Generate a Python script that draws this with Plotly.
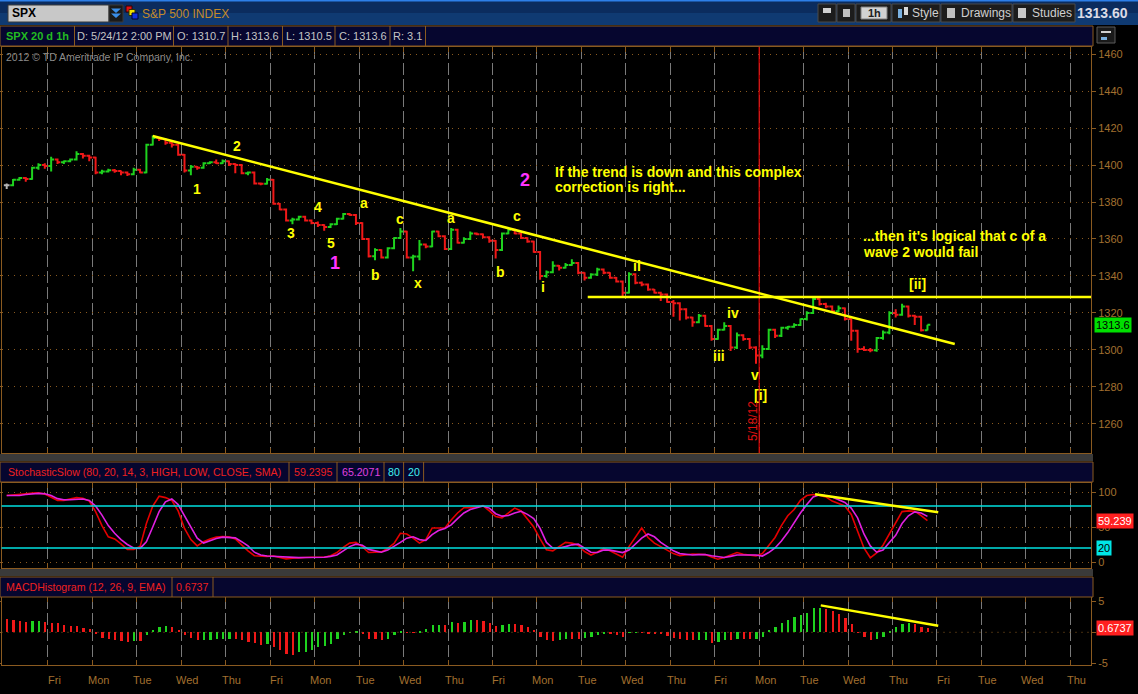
import plotly.graph_objects as go

W, H = 1138, 694

# ---------------- data ----------------
day_labels = ["Fri", "Mon", "Tue", "Wed", "Thu", "Fri", "Mon", "Tue", "Wed", "Thu",
              "Fri", "Mon", "Tue", "Wed", "Thu", "Fri", "Mon", "Tue", "Wed", "Thu",
              "Fri", "Tue", "Wed", "Thu"]

# SPX hourly bars, Thu 4/26/12 .. Thu 5/24/12 2:00 PM, 7 bars per day
bar_open = [
    1389.0, 1389.0, 1392.0, 1393.0, 1392.5, 1398.5, 1400.0,
    1399.5, 1403.0, 1401.5, 1402.0, 1403.0, 1406.0, 1405.0,
    1404.0, 1396.0, 1396.5, 1397.2, 1396.8, 1396.0, 1395.0,
    1397.4, 1396.0, 1411.0, 1414.6, 1414.0, 1412.0, 1411.0,
    1405.5, 1397.0, 1399.0, 1398.5, 1401.0, 1401.5, 1401.0,
    1402.0, 1400.6, 1400.0, 1395.6, 1396.0, 1390.0, 1389.8,
    1392.0, 1379.0, 1376.0, 1370.0, 1370.5, 1372.0, 1370.0,
    1368.7, 1367.5, 1366.5, 1368.0, 1371.0, 1373.5, 1373.0,
    1368.7, 1360.0, 1350.7, 1354.0, 1350.0, 1355.0, 1360.5,
    1364.0, 1350.0, 1350.5, 1357.0, 1356.0, 1364.0, 1361.5,
    1354.6, 1365.0, 1358.0, 1360.0, 1363.0, 1362.5, 1361.0,
    1359.0, 1354.0, 1363.0, 1365.0, 1363.0, 1360.5, 1358.6,
    1353.0, 1340.0, 1342.0, 1345.6, 1344.5, 1346.0, 1347.0,
    1341.7, 1339.0, 1340.8, 1343.5, 1341.7, 1339.0, 1337.0,
    1331.0, 1341.0, 1336.3, 1335.4, 1332.7, 1331.0, 1330.0,
    1326.0, 1325.3, 1322.0, 1317.6, 1315.0, 1318.5, 1313.0,
    1306.0, 1311.0, 1313.0, 1301.4, 1308.0, 1306.0, 1301.4,
    1297.0, 1300.5, 1311.0, 1307.7, 1312.0, 1312.5, 1313.5,
    1316.7, 1320.0, 1327.5, 1324.8, 1323.5, 1321.0, 1322.5,
    1316.7, 1310.4, 1300.5, 1300.0, 1299.8, 1306.5, 1309.5,
    1320.0, 1319.0, 1323.5, 1318.5, 1318.0, 1310.7,
]
bar_high = [
    1390.0, 1392.5, 1393.5, 1393.5, 1399.0, 1401.0, 1401.0,
    1404.5, 1403.5, 1402.5, 1403.5, 1407.5, 1406.5, 1405.5,
    1404.5, 1397.5, 1398.0, 1397.8, 1397.0, 1396.5, 1398.5,
    1398.0, 1411.5, 1416.0, 1415.0, 1414.5, 1412.5, 1411.5,
    1406.0, 1400.0, 1399.5, 1401.5, 1402.0, 1403.0, 1403.0,
    1402.5, 1401.0, 1400.5, 1396.5, 1396.5, 1390.5, 1393.0,
    1392.5, 1379.5, 1376.5, 1371.5, 1372.5, 1372.5, 1370.5,
    1369.5, 1368.0, 1368.5, 1371.5, 1374.0, 1374.0, 1373.5,
    1369.0, 1360.5, 1355.0, 1354.5, 1355.5, 1361.0, 1366.0,
    1364.5, 1351.5, 1359.5, 1357.5, 1364.5, 1364.5, 1362.0,
    1366.0, 1365.5, 1361.0, 1364.0, 1363.5, 1363.0, 1361.5,
    1359.5, 1363.5, 1366.0, 1365.5, 1363.5, 1361.0, 1359.0,
    1353.5, 1343.0, 1348.0, 1346.0, 1347.0, 1349.0, 1347.5,
    1342.0, 1341.5, 1344.5, 1344.0, 1342.0, 1339.5, 1337.5,
    1342.0, 1341.5, 1337.0, 1336.0, 1333.0, 1331.5, 1330.5,
    1327.0, 1325.8, 1322.5, 1318.0, 1319.5, 1319.0, 1313.5,
    1311.5, 1315.0, 1313.5, 1309.5, 1308.5, 1306.5, 1302.0,
    1302.5, 1311.5, 1311.5, 1312.5, 1313.0, 1314.5, 1317.0,
    1321.0, 1328.5, 1328.0, 1325.5, 1324.0, 1324.0, 1323.0,
    1317.0, 1311.0, 1302.0, 1301.0, 1307.0, 1310.5, 1321.0,
    1322.0, 1325.0, 1324.0, 1319.0, 1318.5, 1313.6,
]
bar_low = [
    1387.0, 1388.5, 1391.5, 1391.0, 1392.0, 1397.5, 1398.0,
    1396.5, 1400.5, 1400.5, 1401.5, 1402.5, 1403.5, 1402.0,
    1395.0, 1395.0, 1396.0, 1395.8, 1394.5, 1394.0, 1394.5,
    1395.5, 1395.5, 1410.5, 1413.0, 1411.0, 1409.5, 1405.0,
    1396.0, 1394.5, 1397.5, 1398.0, 1400.5, 1400.5, 1400.5,
    1399.5, 1395.5, 1395.0, 1394.5, 1389.5, 1389.0, 1389.5,
    1378.5, 1375.5, 1369.5, 1368.0, 1370.0, 1369.5, 1368.0,
    1366.5, 1364.5, 1366.0, 1367.5, 1370.5, 1372.5, 1367.5,
    1359.5, 1350.0, 1348.5, 1349.5, 1349.5, 1354.5, 1360.0,
    1349.5, 1342.5, 1348.5, 1355.0, 1355.5, 1361.0, 1354.0,
    1354.0, 1357.5, 1357.5, 1359.5, 1362.0, 1360.5, 1358.0,
    1349.5, 1353.5, 1362.5, 1362.5, 1360.0, 1358.0, 1352.5,
    1338.0, 1339.0, 1341.5, 1343.0, 1344.0, 1345.5, 1341.0,
    1337.5, 1338.5, 1340.0, 1341.0, 1338.5, 1336.5, 1329.0,
    1330.5, 1335.5, 1334.5, 1332.0, 1330.5, 1326.5, 1325.5,
    1318.0, 1316.0, 1316.5, 1312.5, 1314.5, 1312.5, 1305.0,
    1305.5, 1310.5, 1299.5, 1300.5, 1305.0, 1300.5, 1292.5,
    1295.5, 1300.0, 1306.5, 1307.0, 1311.0, 1312.0, 1313.0,
    1316.0, 1319.5, 1324.0, 1322.5, 1320.0, 1320.5, 1316.0,
    1305.0, 1298.5, 1299.5, 1298.8, 1299.0, 1305.5, 1308.5,
    1317.5, 1318.5, 1317.5, 1313.5, 1310.0, 1310.5,
]
bar_close = [
    1389.0, 1392.0, 1393.0, 1392.5, 1398.5, 1400.0, 1399.5,
    1403.0, 1401.5, 1402.0, 1403.0, 1406.0, 1405.0, 1404.0,
    1396.0, 1396.5, 1397.2, 1396.8, 1396.0, 1395.0, 1397.4,
    1396.0, 1411.0, 1414.6, 1414.0, 1412.0, 1411.0, 1405.5,
    1397.0, 1399.0, 1398.5, 1401.0, 1401.5, 1401.0, 1402.0,
    1400.6, 1400.0, 1395.6, 1396.0, 1390.0, 1389.8, 1392.0,
    1379.0, 1376.0, 1370.0, 1370.5, 1372.0, 1370.0, 1368.7,
    1367.5, 1366.5, 1368.0, 1371.0, 1373.5, 1373.0, 1368.7,
    1360.0, 1350.7, 1354.0, 1350.0, 1355.0, 1360.5, 1364.0,
    1350.0, 1350.5, 1357.0, 1356.0, 1364.0, 1361.5, 1354.6,
    1365.0, 1358.0, 1360.0, 1363.0, 1362.5, 1361.0, 1359.0,
    1354.0, 1363.0, 1365.0, 1363.0, 1360.5, 1358.6, 1353.0,
    1340.0, 1342.0, 1345.6, 1344.5, 1346.0, 1347.0, 1341.7,
    1339.0, 1340.8, 1343.5, 1341.7, 1339.0, 1337.0, 1331.0,
    1341.0, 1336.3, 1335.4, 1332.7, 1331.0, 1330.0, 1326.0,
    1325.3, 1322.0, 1317.6, 1315.0, 1318.5, 1313.0, 1306.0,
    1311.0, 1313.0, 1301.4, 1308.0, 1306.0, 1301.4, 1297.0,
    1300.5, 1311.0, 1307.7, 1312.0, 1312.5, 1313.5, 1316.7,
    1320.0, 1327.5, 1324.8, 1323.5, 1321.0, 1322.5, 1316.7,
    1310.4, 1300.5, 1300.0, 1299.8, 1306.5, 1309.5, 1320.0,
    1319.0, 1323.5, 1318.5, 1318.0, 1310.7, 1313.6,
]

# StochasticSlow %K (red) and %D (magenta)
stoch_k = [
    95, 95.5, 96, 97.5, 98.5, 99, 97,
    92, 88, 88, 90, 92, 91, 87,
    72, 52, 36, 33, 26, 18, 18,
    22, 55, 80, 94, 92, 88, 73,
    48, 32, 23, 29, 33, 35.5, 36.5,
    36, 33, 24, 16, 9, 8, 8,
    8.5, 6, 4.5, 5.5, 6.3, 6.5, 6.7,
    6.7, 6.7, 9, 13.5, 21, 27, 28,
    22, 13.5, 13.5, 14.5, 19.5, 26.5, 41,
    40, 34, 27, 32, 48.6, 48.6, 48.6,
    60, 70, 77.5, 77.5, 79, 80.5, 73,
    65, 63, 70, 77, 73, 62, 50,
    33, 17.5, 16, 22, 28, 27, 24,
    15, 10, 14, 19.5, 16, 12, 7,
    22, 36, 48.6, 35, 27, 22, 17,
    12, 9, 10.5, 11.5, 11, 10.6, 7,
    4, 6.5, 10, 13.5, 11, 10, 8.7,
    12, 24, 35, 52, 66, 75, 88,
    95, 96.5, 95, 93, 87, 83, 80,
    68, 45, 20, 6, 13, 24, 40,
    55, 72, 73, 72.6, 66.3, 59.2395,
]
stoch_d = [
    95, 94.5, 95, 96.5, 97.5, 98, 97.5,
    95, 90.5, 89, 89, 89.5, 90, 88,
    80, 67, 52, 41, 32, 25, 20,
    19.5, 29, 50, 72, 86, 90, 82,
    66, 50, 34, 27, 30.5, 33.5, 35.5,
    35.5, 34.5, 29, 23, 14, 10, 8.5,
    8, 7, 6.3, 6, 6.3, 6.5, 6.7,
    6.7, 6.7, 8, 10, 16, 22, 25.5,
    24, 18, 15.5, 14, 17, 22, 28,
    34, 36, 32, 30.8, 39, 45, 48,
    53, 62, 70, 75, 78, 80, 77,
    69, 65.5, 66.5, 70, 72.5, 68, 62,
    48, 28, 20, 20, 22, 24.5, 25.5,
    20, 14, 13.5, 17, 17, 15, 13.5,
    17, 25, 34, 40, 36, 28, 22,
    16, 12, 10.5, 10, 10.5, 10.6, 9,
    7.5, 6.5, 8, 10, 10, 10, 10,
    8.5, 13.5, 20, 30, 42, 56, 70,
    82, 93, 96, 95, 93, 89, 85,
    77, 63, 40, 23, 14, 17, 28,
    38, 55, 66, 71.6, 70, 65.2071,
]

# MACDHistogram (12, 26, 9, EMA)
macd_hist = [
    2.1, 2.0, 1.8, 1.7, 1.8, 1.85, 1.7,
    1.55, 1.45, 1.1, 1.05, 1.0, 0.75, 0.5,
    -0.27, -0.95, -1.1, -1.2, -1.4, -1.5, -1.4,
    -1.45, -0.4, 0.37, 0.9, 0.95, 0.8, 0.37,
    -0.5, -0.95, -1.3, -1.25, -1.2, -1.1, -1.05,
    -1.0, -1.05, -1.3, -1.5, -1.75, -2.0, -1.9,
    -2.4, -2.8, -3.45, -3.6, -3.2, -3.15, -2.8,
    -2.4, -2.2, -1.85, -1.1, -0.4, -0.1, 0.15,
    -0.15, -1.05, -1.1, -1.2, -1.1, -0.4, 0.1,
    -0.05, -0.08, 0.1, 0.5, 1.15, 1.2, 1.1,
    1.6, 1.55, 1.65, 2.0, 1.95, 1.8, 1.45,
    1.0, 1.15, 1.3, 1.25, 1.15, 0.9, 0.37,
    -0.7, -1.25, -1.32, -1.25, -1.05, -1.1, -1.12,
    -0.95, -0.8, -0.4, -0.27, -0.3, -0.4, -0.7,
    -0.05, 0.02, -0.02, -0.15, -0.17, -0.2, -0.6,
    -0.85, -1.05, -1.2, -1.3, -1.2, -1.15, -1.65,
    -1.5, -1.2, -1.3, -1.05, -1.1, -1.12, -1.1,
    -0.7, 0.37, 0.9, 1.55, 2.0, 2.5, 2.75,
    3.15, 3.9, 3.95, 3.8, 3.4, 3.0, 2.35,
    1.3, 0.05, -0.7, -1.3, -1.05, -0.7, 0.25,
    0.8, 1.3, 1.55, 1.3, 0.9, 0.6737,
]

price_ticks = [1260, 1280, 1300, 1320, 1340, 1360, 1380, 1400, 1420, 1440, 1460]
stoch_ticks = [0, 50, 100]
macd_ticks = [-5, 0, 5]
macd_tick_text = ["-5", "", "5"]  # the 0 label sits under the value box
stoch_levels = [80, 20]

# hand drawn lines (bar index, value)
trend_down = ([23.0, 149.3], [1415.7, 1303.2])
trend_flat_start, trend_flat_level = 91.5, 1328.6
stoch_trend = ([127.3, 146.7], [96.7, 71.0])
macd_trend = ([128.2, 146.7], [4.3, 1.05])
marker_bar = 118.5  # red "5/18/12" line

# wave labels: text, bar, price, colour, size
wave_labels = [
    ("2", 36.2, 1410.3, "y", 14), ("1", 29.9, 1386.9, "y", 14),
    ("3", 44.7, 1363.1, "y", 14), ("4", 49.1, 1377.1, "y", 14),
    ("5", 51.0, 1358.0, "y", 14), ("1", 51.7, 1346.9, "m", 18),
    ("a", 56.3, 1379.3, "y", 14), ("b", 58.1, 1340.5, "y", 14),
    ("c", 62.0, 1370.6, "y", 14), ("x", 64.7, 1336.1, "y", 14),
    ("a", 69.9, 1371.2, "y", 14), ("b", 77.7, 1342.3, "y", 14),
    ("c", 80.3, 1372.4, "y", 14), ("i", 84.4, 1334.2, "y", 14),
    ("2", 81.6, 1391.9, "m", 18), ("ii", 99.2, 1345.4, "y", 14),
    ("iv", 114.4, 1320.2, "y", 14), ("iii", 112.2, 1296.9, "y", 14),
    ("v", 117.9, 1286.5, "y", 14), ("[i]", 118.7, 1275.7, "y", 14),
    ("[ii]", 143.5, 1335.5, "y", 14),
]
comments = [
    ("If the trend is down and this complex", 86.1, 1396.4),
    ("correction is right...", 86.1, 1387.9),
    ("...then it's logical that c of a", 134.6, 1361.8),
    ("wave 2 would fail", 134.6, 1353.1),
]

# ---------------- geometry / style ----------------
FONT = "Liberation Sans, Arial, sans-serif"
BROWN = "#8a5a20"
AXIS_TXT = "#a3702f"
GRID_V = "#7a7a7a"
GREEN = "#1ed21e"
RED = "#f01818"
YELLOW = "#ffff00"
MAGENTA = "#ff33ff"
CYAN = "#00e0e0"
NAVY = "#06062f"

X_LEFT, X_RIGHT = 1.5, 1091.0
SLOT, X0 = 6.35, 6.7
x_range = [(X_LEFT - X0) / SLOT, (X_RIGHT - X0) / SLOT]
price_px, price_range = (47, 453), [1244.3, 1463.8]
stoch_px, stoch_range = (483, 568), [-8.57, 112.86]
macd_px, macd_range = (597, 665), [-5.22, 5.64]

n_bars = len(bar_close)
bar_x = list(range(n_bars))
day_breaks = [7 * (k + 1) - 0.5 for k in range(len(day_labels))]


def px(x):
    return x / W


def py(y):
    return 1 - y / H


def dom(p):
    return [py(p[1]), py(p[0])]


macd_colors = [RED] + [GREEN if macd_hist[i] > macd_hist[i - 1] else RED
                       for i in range(1, n_bars)]

fig = go.Figure()
fig.add_trace(go.Ohlc(
    x=bar_x[1:], open=bar_open[1:], high=bar_high[1:], low=bar_low[1:], close=bar_close[1:],
    increasing=dict(line=dict(color=GREEN, width=2)),
    decreasing=dict(line=dict(color=RED, width=2)),
    tickwidth=0.45, xaxis="x", yaxis="y", hoverinfo="skip", showlegend=False))
fig.add_trace(go.Ohlc(
    x=bar_x[:1], open=bar_open[:1], high=bar_high[:1], low=bar_low[:1], close=bar_close[:1],
    increasing=dict(line=dict(color="#b4b4b4", width=2)),
    decreasing=dict(line=dict(color="#b4b4b4", width=2)),
    tickwidth=0.45, xaxis="x", yaxis="y", hoverinfo="skip", showlegend=False))
fig.add_trace(go.Scatter(x=bar_x, y=stoch_k, mode="lines", line=dict(color="#e40000", width=1.6),
                         xaxis="x2", yaxis="y2", hoverinfo="skip", showlegend=False))
fig.add_trace(go.Scatter(x=bar_x, y=stoch_d, mode="lines", line=dict(color="#e020e0", width=1.6),
                         xaxis="x2", yaxis="y2", hoverinfo="skip", showlegend=False))
fig.add_trace(go.Bar(x=bar_x, y=macd_hist, marker=dict(color=macd_colors, line=dict(width=0)),
                     width=0.36, xaxis="x3", yaxis="y3", hoverinfo="skip", showlegend=False))

xcommon = dict(range=x_range, domain=[px(X_LEFT), px(X_RIGHT)], tickvals=day_breaks,
               showticklabels=False, ticks="inside", ticklen=5, tickcolor=BROWN,
               showline=True, linecolor=BROWN, mirror="ticks",
               showgrid=True, gridcolor=GRID_V, griddash="12px,4px", gridwidth=1,
               zeroline=False, fixedrange=True, automargin=False,
               rangeslider=dict(visible=False))
ycommon = dict(side="right", ticks="outside", ticklen=4, tickcolor=BROWN,
               showline=True, linecolor=BROWN, mirror="ticks", zeroline=False,
               fixedrange=True, automargin=False,
               tickfont=dict(family=FONT, size=11, color=AXIS_TXT),
               gridcolor=BROWN, griddash="1px,5px", gridwidth=1)

shapes = []


def rect(x0, y0, x1, y1, fill, line=None, lw=1):
    shapes.append(dict(type="rect", xref="paper", yref="paper", x0=px(x0), x1=px(x1),
                       y0=py(y1), y1=py(y0), fillcolor=fill,
                       line=dict(color=line or fill, width=lw if line else 0)))


def vline(x, y0, y1, color, width=1):
    shapes.append(dict(type="line", xref="paper", yref="paper", x0=px(x), x1=px(x),
                       y0=py(y0), y1=py(y1), line=dict(color=color, width=width)))


annotations = []


def text(t, x, y, color, size=11, xanchor="center", bold=False, **kw):
    annotations.append(dict(text="<b>%s</b>" % t if bold else t, x=px(x), y=py(y),
                            xref="paper", yref="paper", xanchor=xanchor, yanchor="middle",
                            showarrow=False, font=dict(family=FONT, size=size, color=color), **kw))


# --- top toolbar ---
rect(0, 0, W, 13, "#0b2c5e")
rect(0, 13, W, 25, "#0f3a72")
rect(0, 0, W, 1.5, "#2d7fe8")
rect(8, 5, 109, 22, "#c8c8c8", "#3a3a3a")
rect(109, 5, 123, 22, "#1a1a1a", "#3a3a3a")
for ty in (8.5, 13.5):
    shapes.append(dict(type="path", xref="paper", yref="paper",
                       path="M %f %f L %f %f L %f %f Z" % (px(111), py(ty), px(121), py(ty),
                                                         px(116), py(ty + 4.5)),
                       fillcolor="#3a8ee8", line=dict(width=0)))
rect(126, 6, 132, 12, "#e01010", "#300000")
rect(129, 9.5, 135, 15.5, "#f0e000", "#303000")
rect(132, 13, 138, 19, "#1030e0", "#000030")
text("SPX", 10, 13.5, "#000000", 12, xanchor="left", bold=True)
text("S&P 500 INDEX", 140, 14, "#c48a2a", 12, xanchor="left")

for x0, x1 in [(818, 836), (837, 855), (856, 891), (892, 940), (941, 1012), (1013, 1075)]:
    rect(x0, 4, x1, 22, "#1c1c1c", "#4a4a4a")
rect(861, 7, 887, 19, "#d2d2d2", "#808080")
text("1h", 874, 13.5, "#202020", 11, bold=True)
rect(823, 8, 831, 13, "#d0d0d0")
rect(843, 9, 850, 17, "#c0c0c0")
rect(898, 9, 902, 18, "#7ab0e0")
rect(904, 7, 908, 15, "#d8d8d8")
rect(947, 8, 955, 18, "#c0c0c0")
rect(1018, 8, 1026, 18, "#c8c8c8")
text("Style", 925, 13.5, "#d0d0d0", 12)
text("Drawings", 985.5, 13.5, "#d0d0d0", 12)
text("Studies", 1052, 13.5, "#d0d0d0", 12)
text("1313.60", 1102.5, 13.5, "#dcdce6", 14, bold=True)

# --- header bars ---
rect(0, 26, 1093, 46, NAVY, BROWN)
main_cells = [0, 74.5, 173.5, 228, 282.5, 335, 390, 425.5]
for xc in main_cells[1:]:
    vline(xc, 26, 46, BROWN)
main_texts = ["SPX 20 d 1h", "D: 5/24/12 2:00 PM", "O: 1310.7", "H: 1313.6",
              "L: 1310.5", "C: 1313.6", "R: 3.1"]
for i, t in enumerate(main_texts):
    cx = (main_cells[i] + main_cells[i + 1]) / 2
    if i == 0:
        text(t, cx, 36, "#22bb22", 11, bold=True)
    else:
        text(t, cx, 36, "#c4c4c4", 11)
rect(1097, 27, 1115, 43, "#1a1a1a", "#5a5a5a")
rect(1101, 31, 1111, 33, "#d0d0d0")
rect(1101, 37, 1107, 40, "#7ab0e0")

rect(0, 454, 1093, 461, "#3a3a3a")
rect(0, 462, 1093, 482, NAVY, BROWN)
stoch_cells = [0, 289, 337, 384, 403.6, 423.6]
for xc in stoch_cells[1:]:
    vline(xc, 462, 482, BROWN)
stoch_texts = [("StochasticSlow (80, 20, 14, 3, HIGH, LOW, CLOSE, SMA)", "#ee2020"),
               ("59.2395", "#ee2020"), ("65.2071", "#e040e0"), ("80", "#40f0f0"),
               ("20", "#40f0f0")]
for i, (t, c) in enumerate(stoch_texts):
    text(t, (stoch_cells[i] + stoch_cells[i + 1]) / 2, 472, c, 10.6)

rect(0, 569, 1093, 576, "#3a3a3a")
rect(0, 577, 1093, 597, NAVY, BROWN)
macd_cells = [0, 172, 213]
for xc in macd_cells[1:]:
    vline(xc, 577, 597, BROWN)
text("MACDHistogram (12, 26, 9, EMA)", 86, 587, "#ee2020", 10.6)
text("0.6737", 192.5, 587, "#ee2020", 10.6)

# --- chart overlays ---
text("2012 © TD Ameritrade IP Company, Inc.", 4, 56.5, "#8c8c8c", 10.5, xanchor="left")

for lv in stoch_levels:
    shapes.append(dict(type="line", xref="paper", yref="y2", x0=px(X_LEFT), x1=px(X_RIGHT),
                       y0=lv, y1=lv, line=dict(color=CYAN, width=1.5)))
shapes.append(dict(type="line", xref="paper", yref="y3", x0=px(X_LEFT), x1=px(X_RIGHT),
                   y0=0, y1=0, line=dict(color=BROWN, width=1, dash="1px,5px")))
shapes.append(dict(type="line", xref="x", yref="y", x0=marker_bar, x1=marker_bar,
                   y0=price_range[0], y1=price_range[1], line=dict(color="#e00000", width=1.2)))
shapes.append(dict(type="line", xref="x", yref="y", x0=trend_down[0][0], x1=trend_down[0][1],
                   y0=trend_down[1][0], y1=trend_down[1][1], line=dict(color=YELLOW, width=2.5)))
shapes.append(dict(type="line", xref="x", yref="y", x0=trend_flat_start, x1=x_range[1],
                   y0=trend_flat_level, y1=trend_flat_level, line=dict(color=YELLOW, width=2.5)))
shapes.append(dict(type="line", xref="x2", yref="y2", x0=stoch_trend[0][0], x1=stoch_trend[0][1],
                   y0=stoch_trend[1][0], y1=stoch_trend[1][1], line=dict(color=YELLOW, width=2.5)))
shapes.append(dict(type="line", xref="x3", yref="y3", x0=macd_trend[0][0], x1=macd_trend[0][1],
                   y0=macd_trend[1][0], y1=macd_trend[1][1], line=dict(color=YELLOW, width=2.5)))

for t, bx, pv, c, s in wave_labels:
    annotations.append(dict(text="<b>%s</b>" % t, x=bx, y=pv, xref="x", yref="y",
                            showarrow=False, xanchor="center", yanchor="middle",
                            font=dict(family=FONT, size=s, color=YELLOW if c == "y" else MAGENTA)))
for t, bx, pv in comments:
    annotations.append(dict(text="<b>%s</b>" % t, x=bx, y=pv, xref="x", yref="y",
                            showarrow=False, xanchor="left", yanchor="middle",
                            font=dict(family=FONT, size=14, color=YELLOW)))

annotations.append(dict(text="5/18/12", x=px(752.5), y=py(421.5), xref="paper", yref="paper",
                        showarrow=False, textangle=-90,
                        font=dict(family=FONT, size=12, color="#e01010")))

# right-hand value boxes
annotations.append(dict(text="1313.6", x=px(1094), y=bar_close[-1], xref="paper", yref="y",
                        xanchor="left", yanchor="middle", showarrow=False, bgcolor="#00e000",
                        borderpad=1, font=dict(family=FONT, size=11, color="#000000")))
annotations.append(dict(text="59.239", x=px(1096), y=stoch_k[-1], xref="paper", yref="y2",
                        xanchor="left", yanchor="middle", showarrow=False, bgcolor="#ff2020",
                        borderpad=1, font=dict(family=FONT, size=11, color="#ffffff")))
annotations.append(dict(text="20", x=px(1096), y=stoch_levels[1], xref="paper", yref="y2",
                        xanchor="left", yanchor="middle", showarrow=False, bgcolor="#00e6e6",
                        borderpad=1, font=dict(family=FONT, size=11, color="#000000")))
annotations.append(dict(text="0.6737", x=px(1096), y=macd_hist[-1], xref="paper", yref="y3",
                        xanchor="left", yanchor="middle", showarrow=False, bgcolor="#ff2020",
                        borderpad=1, font=dict(family=FONT, size=11, color="#ffffff")))

# day labels under the lower panel
for brk, lab in zip(day_breaks, day_labels):
    annotations.append(dict(text=lab, x=brk + 0.95, y=py(680), xref="x3", yref="paper",
                            showarrow=False, xanchor="center", yanchor="middle",
                            font=dict(family=FONT, size=11, color=AXIS_TXT)))

fig.update_layout(
    width=W, height=H, margin=dict(l=0, r=0, t=0, b=0),
    paper_bgcolor="#000000", plot_bgcolor="#000000", template="none",
    showlegend=False, hovermode=False, bargap=0,
    xaxis=dict(xcommon, anchor="y"),
    xaxis2=dict(xcommon, anchor="y2", matches="x"),
    xaxis3=dict(xcommon, anchor="y3", matches="x"),
    yaxis=dict(ycommon, domain=dom(price_px), range=price_range, tickvals=price_ticks,
               showgrid=True, anchor="x"),
    yaxis2=dict(ycommon, domain=dom(stoch_px), range=stoch_range, tickvals=stoch_ticks,
                showgrid=True, anchor="x2"),
    yaxis3=dict(ycommon, domain=dom(macd_px), range=macd_range, tickvals=macd_ticks,
                ticktext=macd_tick_text, showgrid=False, anchor="x3"),
    shapes=shapes, annotations=annotations,
)

fig.write_html("out.html", config={"displayModeBar": False},
               post_script="document.body.style.margin='0';")
